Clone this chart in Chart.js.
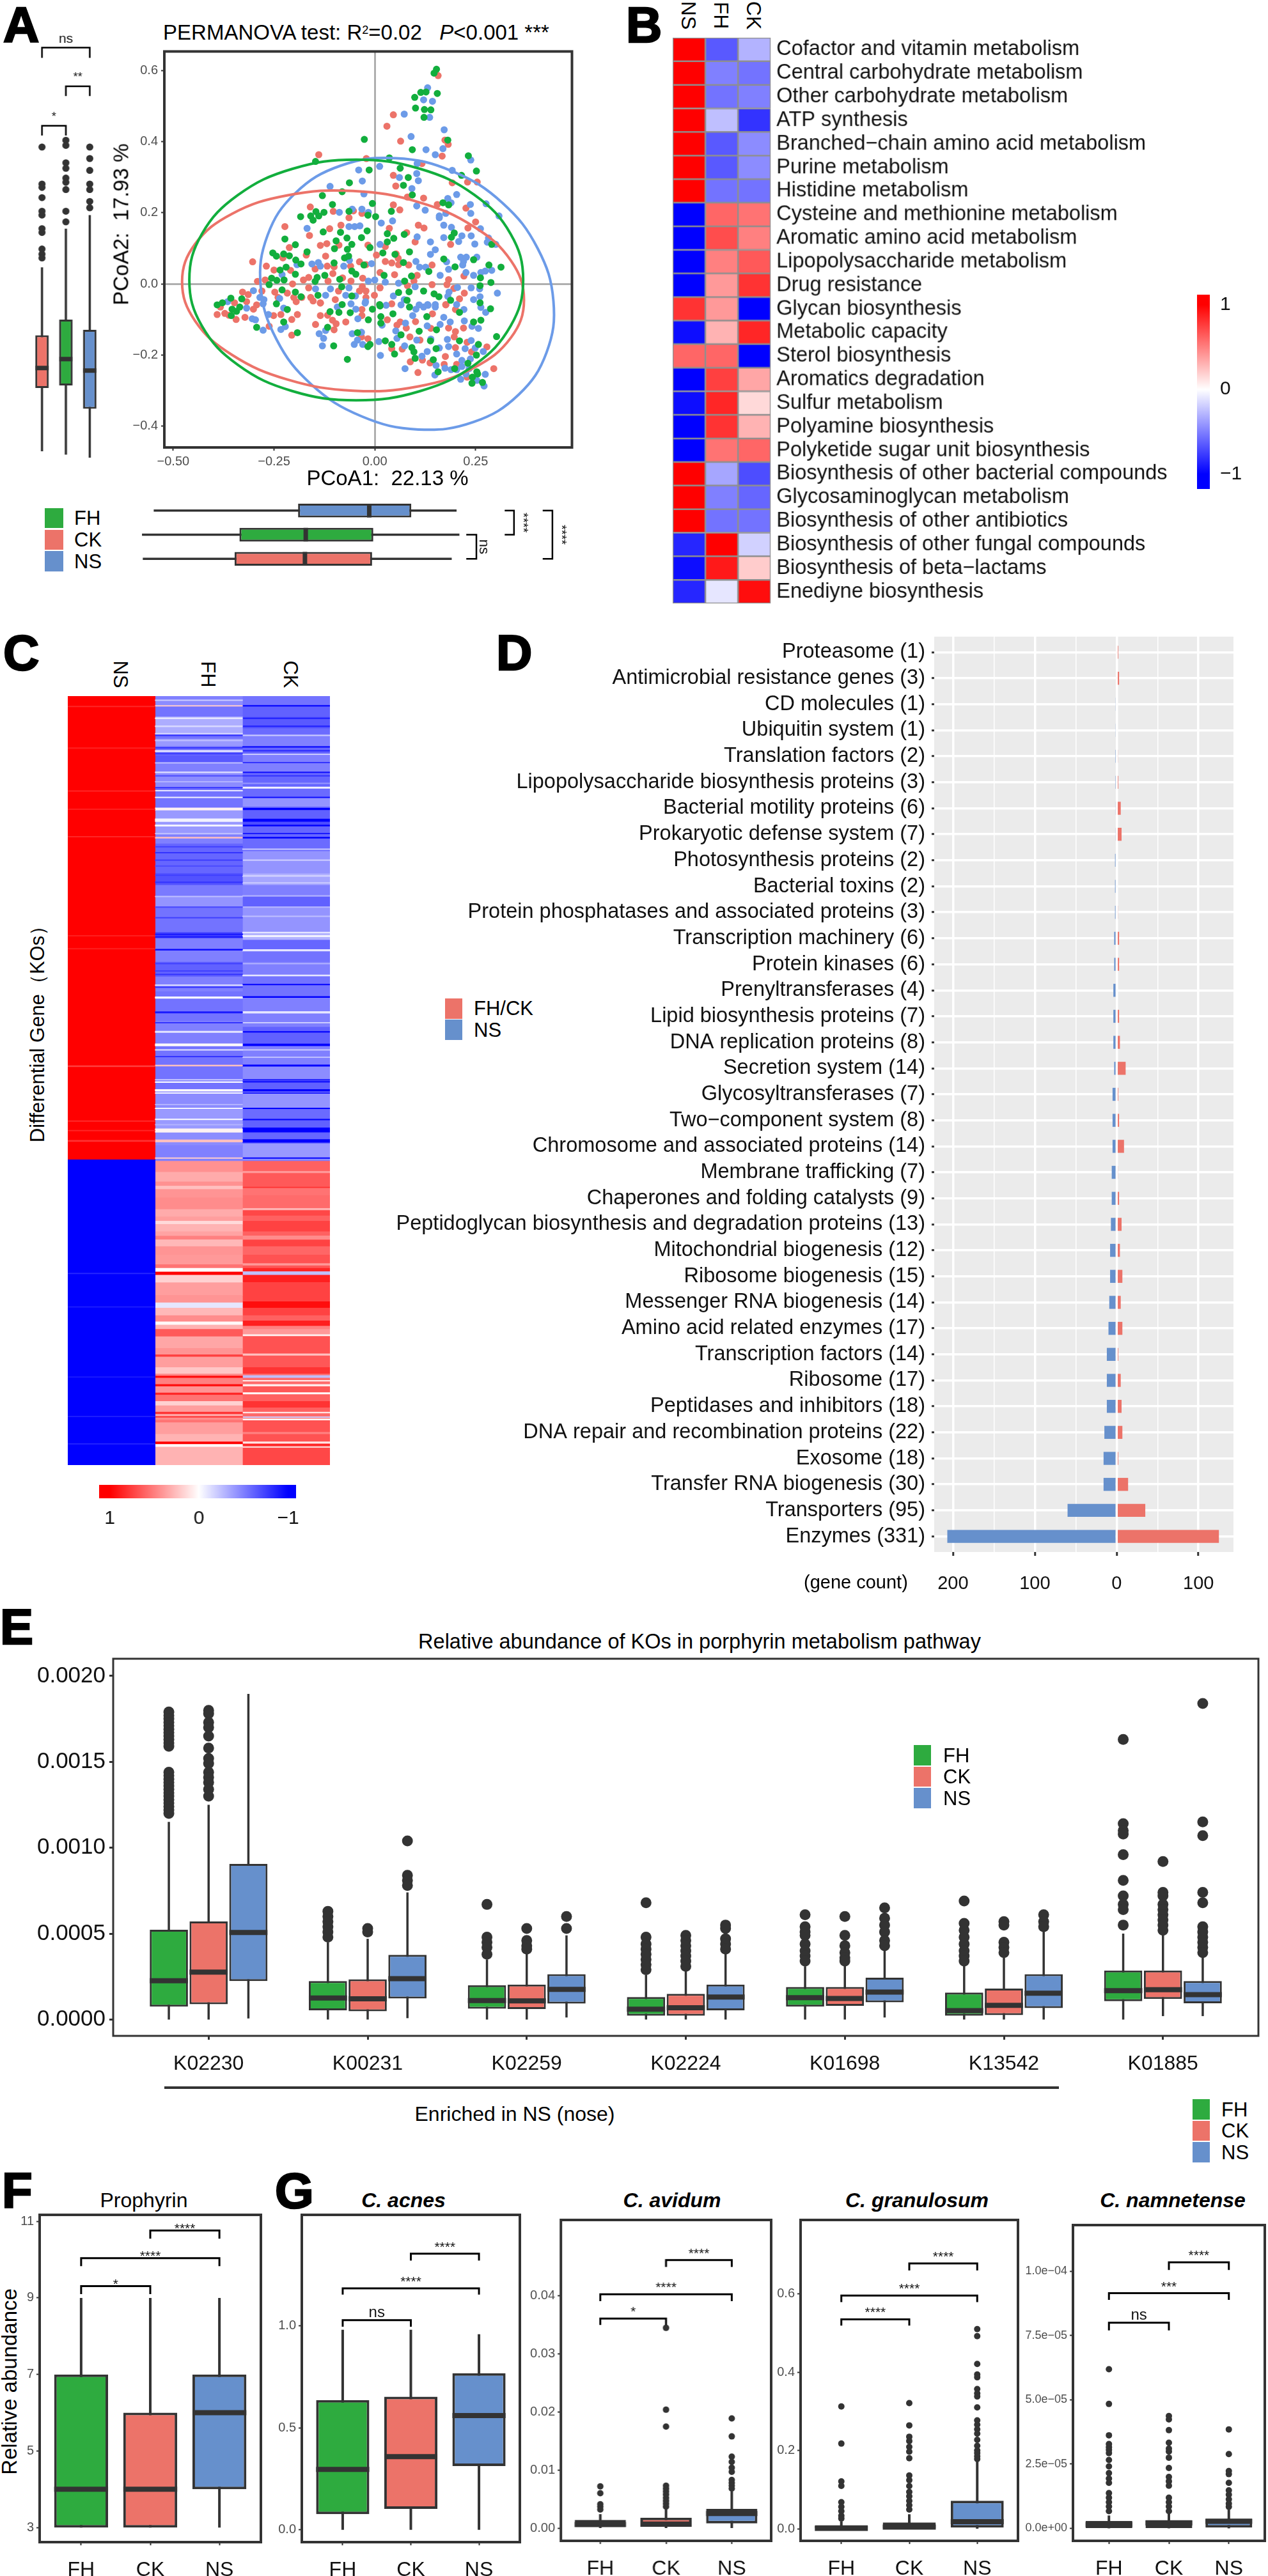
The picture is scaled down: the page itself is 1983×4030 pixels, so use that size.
<!DOCTYPE html>
<html>
<head>
<meta charset="utf-8">
<title>Figure</title>
<script src="https://cdn.jsdelivr.net/npm/chart.js@4/dist/chart.umd.min.js"></script>
<style>
  html, body { margin: 0; padding: 0; background: #fff; }
  #page { position: relative; width: 1983px; height: 4030px; overflow: hidden; font-family: "Liberation Sans", Arial, sans-serif; color: #000; }
  #page canvas { position: absolute; }
  .t { position: absolute; white-space: pre; line-height: 1; transform-origin: center; }
  .s { position: absolute; }
</style>
</head>
<body>
<div id="page"></div>
<script>
// colours
const GREEN = '#2EAB3F', RED = '#EC7369', BLUE = '#6690CC', INK = '#333333', GREY = '#4D4D4D';

// ---- panel A: PCoA points
const fhPts = [[.153,.603],[.147,.592],[.114,.538],[.127,.539],[.155,.535],[.099,.524],[.101,.494],[.123,.49],[.139,.489],[.122,.468],[-.026,.406],[.181,.404],[.093,.377],[.232,.36],[.036,.354],[-.147,.344],[-.014,.32],[.063,.325],[.252,.317],[.083,.299],[.215,.305],[-.063,.284],[.071,.277],[.093,.25],[-.13,.248],[-.081,.259],[.169,.228],[.183,.222],[-.105,.223],[-.006,.226],[.041,.204],[-.064,.204],[-.146,.203],[-.126,.201],[-.184,.189],[-.159,.191],[-.139,.191],[-.017,.193],[.002,.189],
  [-.153,.179],[-.128,.146],[-.085,.145],[-.019,.149],[-.223,.126],[-.033,.13],[-.069,.129],[.031,.141],[.047,.128],[.073,.139],[.197,.143],[.19,.131],[-.096,.121],[-.057,.111],[-.197,.11],[.031,.118],[-.1,.099],[-.012,.102],[-.068,.097],[.29,.111],[.02,.087],[-.168,.09],[-.253,.087],[-.244,.078],[-.226,.084],[-.212,.079],[.086,.09],[.05,.083],[-.075,.073],[-.065,.078],[-.196,.067],[.171,.07],[-.183,.056],[-.101,.059],[.071,.06],[-.027,.053],[.245,.068],[.199,.048],[.283,.053],[.313,.047],[-.22,.047],[-.235,.039],[-.057,.036],[.134,.035],[-.047,.027],[-.197,.027],[.023,.024],[.091,.022],[-.124,.024],[-.143,.018],[-.256,.016],[-.243,.01],[-.225,.011],[-.148,.007],[-.087,.013],[.262,.017],[.288,.004],[.074,.008],[-.262,-.002],[.261,-.005],[-.082,-.008],[-.23,-.017],[-.197,-.023],[.121,-.02],[.085,-.022],[.059,-.024],[-.357,-.04],[-.33,-.042],[-.183,-.036],[-.141,-.032],[.147,-.028],[.159,-.036],[.188,-.046],[-.057,-.034],[.08,-.046],[.261,-.053],[-.244,-.056],[.012,-.058],[-.081,-.058],[-.378,-.053],
  [-.391,-.059],[-.354,-.071],[-.343,-.077],[-.356,-.089],[-.335,-.065],[-.217,-.072],[-.111,-.078],[-.089,-.08],[-.061,-.081],[-.006,-.071],[.013,-.062],[.086,-.065],[.045,-.084],[-.016,-.101],[.015,-.092],[.015,-.11],[-.226,-.107],[-.293,-.122],[-.117,-.122],[.129,-.092],[.245,-.107],[.263,-.102],[.21,-.08],[.287,-.07],[-.192,-.137],[-.043,-.137],[.11,-.133],[.153,-.129],[.065,-.143],[.302,-.148],[.026,-.16],[.042,-.17],[-.012,-.17],[-.017,-.176],[-.102,-.174],[.138,-.16],[.21,-.16],[.257,-.17],[.092,-.179],[.097,-.191],[.049,-.197],[.152,-.182],[-.068,-.212],[.252,-.2],[.1,-.209],[.145,-.213],[.231,-.223],[.198,-.238],[.157,-.247],[.253,-.247],[.242,-.262],[.255,-.253],[.267,-.277],[.241,-.279]];
const ckPts = [[.157,.585],[.046,.475],[.03,.443],[.064,.401],[.174,.404],[.182,.392],[-.139,.363],[-.021,.352],[.167,.359],[.117,.338],[.046,.305],[.23,.286],[.192,.284],[.254,.286],[.052,.275],[.081,.244],[.121,.241],[.155,.223],[.226,.213],[-.16,.216],[.046,.222],[.062,.208],[-.103,.204],[-.053,.205],[-.032,.198],[-.064,.186],
  [-.223,.161],[-.112,.155],[-.084,.165],[.036,.156],[.108,.165],[.122,.157],[.231,.157],[.25,.174],[-.162,.136],[.1,.118],[.079,.144],[-.212,.102],[-.135,.108],[-.119,.113],[-.089,.109],[-.017,.109],[.026,.105],[.188,.111],[-.228,.073],[-.17,.081],[-.122,.078],[.004,.081],[.053,.084],[.058,.072],[-.303,.062],[-.269,.05],[-.038,.062],[-.022,.054],[.026,.063],[.042,.059],[.059,.054],[.084,.053],[.142,.053],[-.118,.05],[-.101,.048],[-.148,.042],[-.06,.05],[-.25,.039],[-.209,.038],[-.104,.029],[.013,.032],[.049,.026],[.105,.024],[-.164,.018],[-.177,.011],[-.08,.017],[-.03,.016],[-.291,.007],[-.272,.011],[-.116,.008],[-.059,.008],[.097,.008],[.183,.012],[-.204,0],[.221,.022],[.142,-.002],[.179,-.002],[.081,-.005],[-.164,-.011],[-.031,-.008],[.013,-.011],[.196,-.013],[-.328,-.023],[-.314,-.03],[-.28,-.02],[-.248,-.023],[-.217,-.026],[-.09,-.02],[-.038,-.02],[-.022,-.02],[.222,-.026],[-.001,-.032],[-.24,-.038],[-.201,-.038],[-.181,-.038],[-.159,-.038],[-.022,-.038],[.21,-.042],[-.098,-.044],[-.318,-.05],[-.348,-.053],[-.195,-.05],[-.153,-.048],[-.135,-.053],[.042,-.056],[.176,-.058],[-.385,-.06],[-.293,-.059],
  [-.391,-.086],[-.372,-.083],[-.362,-.088],[-.344,-.1],[-.383,-.065],[-.322,-.094],[-.301,-.071],[-.251,-.089],[-.233,-.086],[-.206,-.1],[-.192,-.086],[-.262,-.119],[-.135,-.054],[-.135,-.089],[-.117,-.088],[-.105,-.102],[-.096,-.112],[-.147,-.114],[-.072,-.107],[-.101,-.129],[-.206,-.144],[-.032,-.072],[-.032,-.089],[-.017,-.154],[-.033,-.149],[.031,-.101],[.063,-.107],[.055,-.116],[.078,-.124],[.101,-.106],[.087,-.149],[.042,-.182],[.068,-.183],[.112,-.158],[.176,-.059],[.2,-.072],[.143,-.084],[.139,-.125],[.183,-.124],[.22,-.124],[.2,-.134],[.197,-.149],[.229,-.164],[.2,-.179],[.24,-.191],[.278,-.177],[.175,-.204],[.137,-.222],[.172,-.226],[.088,-.219],[.107,-.249],[.203,-.226],[.295,-.238],[.229,-.262],[.118,-.214]];
const nsPts = [[.131,.551],[.121,.517],[.143,.513],[.073,.477],[.136,.468],[.172,.433],[.09,.414],[.127,.377],[.15,.363],[.169,.38],[.238,.348],[.105,.338],[.012,.33],[-.04,.32],[.192,.319],[.104,.31],[.061,.299],[.108,.29],[-.031,.289],[-.111,.274],[.092,.268],[.203,.251],[-.027,.253],[.181,.24],[.189,.228],[.276,.225],[.237,.223],[.104,.219],[.125,.207],[-.056,.21],[-.032,.21],[-.088,.201],[-.016,.201],[.238,.198],[.176,.198],[.16,.191],[.308,.191],
  [.044,.177],[-.168,.156],[-.064,.161],[-.05,.161],[-.037,.163],[.016,.171],[.16,.186],[.171,.165],[.19,.159],[.262,.155],[.105,.132],[.171,.13],[.216,.135],[.239,.135],[.208,.119],[.138,.118],[.248,.112],[.282,.129],[.279,.117],[.3,.111],[.013,.111],[.15,.096],[.138,.083],[.213,.075],[.227,.075],[.253,.075],[.22,.063],[.178,.062],[.102,.063],[-.14,.06],[-.156,.056],[-.135,.05],[-.077,.05],[.111,.047],[.126,.047],[-.008,.057],[-.063,.066],[-.193,.054],[.218,.053],[.183,.041],[.29,.038],[.274,.036],[.263,.032],[.226,.032],[.245,.024],[.162,.024],[-.23,.026],[0,.011],[-.016,.008],[.026,.005],[.059,.002],[.1,-.008],[.239,-.011],[.205,-.01],[.26,-.014],[-.301,-.019],[-.147,-.014],[-.11,-.014],[-.064,-.011],[.184,-.023],[.304,-.026],[-.072,-.032],[-.285,-.038],[-.122,-.032],[-.048,-.034],[.046,-.034],[.181,-.035],[.073,-.044],[.245,-.044],[.261,-.036],[-.023,-.05],[.131,-.058],[.15,-.058],[.11,-.059],[.203,-.058],[-.275,-.044],[-.365,-.05],[-.236,-.041],
  [-.318,-.068],[-.304,-.098],[-.296,-.101],[-.277,-.13],[-.264,-.086],[-.277,-.056],[-.226,-.068],[-.222,-.12],[-.233,-.128],[-.093,-.065],[-.059,-.056],[-.047,-.071],[-.042,-.098],[-.024,-.054],[-.138,-.14],[-.122,-.131],[-.127,-.153],[-.13,-.174],[-.056,-.14],[-.033,-.136],[-.043,-.158],[-.051,-.17],[-.03,-.17],[.01,-.162],[.014,-.201],[.018,-.116],[.028,-.06],[.065,-.059],[.102,-.071],[.094,-.089],[.121,-.065],[.132,-.06],[.15,-.065],[.171,-.094],[.187,-.107],[.162,-.114],[.13,-.118],[.221,-.072],[.263,-.066],[.275,-.08],[.222,-.104],[.241,-.119],[.257,-.125],[.052,-.132],[.055,-.153],[.076,-.11],[.104,-.158],[.139,-.155],[.18,-.156],[.239,-.159],[.249,-.18],[.269,-.19],[.224,-.182],[.16,-.18],[.13,-.19],[.117,-.203],[.074,-.174],[.183,-.176],[.203,-.197],[.216,-.215],[.237,-.211],[.152,-.229],[.174,-.237],[.189,-.241],[.216,-.232],[.234,-.238],[.149,-.256],[.075,-.238],[.274,-.254],[.213,-.268],[.253,-.271],[.271,-.287],[.226,-.253],[.203,-.241]];
const fhRing = [[.368,.011],[.337,.14],[.247,.25],[.113,.323],[-.046,.349],[-.205,.323],[-.339,.25],[-.429,.14],[-.46,.011],[-.429,-.118],[-.339,-.228],[-.205,-.301],[-.046,-.327],[.113,-.301],[.247,-.228],[.337,-.118]];
const ckRing = [[.37,-.045],[.338,.0645],[.246,.1605],[.108,.23],[-.054,.261],[-.216,.249],[-.354,.197],[-.446,.1115],[-.478,.006],[-.446,-.1035],[-.354,-.1995],[-.216,-.269],[-.054,-.3],[.108,-.288],[.246,-.2355],[.338,-.1505]];
const nsRing = [[.443,-.048],[.404,.0995],[.317,.227],[.193,.316],[.052,.353],[-.085,.332],[-.197,.255],[-.266,.1365],[-.283,-.008],[-.244,-.1555],[-.157,-.283],[-.033,-.372],[.108,-.409],[.245,-.388],[.357,-.311],[.426,-.1925]];
const pcoaXTicks = [-.5, -.25, 0, .25], pcoaXLabels = ['\u22120.50', '\u22120.25', '0.00', '0.25'];
const pcoaYTicks = [.6, .4, .2, 0, -.2, -.4], pcoaYLabels = ['0.6', '0.4', '0.2', '0.0', '\u22120.2', '\u22120.4'];

// marginal boxes, order CK, FH, NS (left one) and NS, FH, CK (bottom one)
const sideQ1 = [.173, .179, .124], sideMed = [.22, .241, .214], sideQ3 = [.297, .334, .31], sideLow = [.024, .016, .009], sideHigh = [.457, .548, .58];
const sideOut = [[.74, .653, .645, .621, .589, .58, .548, .539, .5, .488, .479], [.756, .744, .703, .69, .667, .657, .64, .589, .564], [.74, .713, .685, .653, .64, .612, .597]];
const sideBrackets = [[0, 2, .974, .95, 'ns'], [1, 2, .883, .86, '**'], [0, 1, .79, .767, '*']];
const underQ1 = [-.192, -.337, -.349], underMed = [-.016, -.173, -.175], underQ3 = [.088, -.006, -.009], underLow = [-.549, -.578, -.576], underHigh = [.2, .207, .188];
const underBrackets = [[1, 2, .249, .224, 'ns'], [0, 1, .342, .319, '****'], [0, 2, .437, .413, '****']];

// ---- panel B
const pathways = ['Cofactor and vitamin metabolism', 'Central carbohydrate metabolism', 'Other carbohydrate metabolism', 'ATP synthesis', 'Branched\u2212chain amino acid metabolism', 'Purine metabolism', 'Histidine metabolism', 'Cysteine and methionine metabolism', 'Aromatic amino acid metabolism', 'Lipopolysaccharide metabolism', 'Drug resistance', 'Glycan biosynthesis', 'Metabolic capacity', 'Sterol biosynthesis', 'Aromatics degradation', 'Sulfur metabolism', 'Polyamine biosynthesis', 'Polyketide sugar unit biosynthesis', 'Biosynthesis of other bacterial compounds', 'Glycosaminoglycan metabolism', 'Biosynthesis of other antibiotics', 'Biosynthesis of other fungal compounds', 'Biosynthesis of beta\u2212lactams', 'Enediyne biosynthesis'];
const pathNs = [1, 1, 1, 1, 1, 1, 1, -1, -1, -1, -1, .8, -.95, .6, -1, -.95, -1, -1, 1, 1, 1, -.85, -.95, -.85];
const pathFh = [-.65, -.5, -.55, -.25, -.65, -.65, -.55, .6, .7, .5, .4, .4, .3, .6, .75, .85, .8, .55, -.35, -.5, -.55, 1, .9, -.1];
const pathCk = [-.3, -.55, -.5, -.8, -.45, -.45, -.55, .55, .5, .65, .8, -1, .85, -1, .35, .15, .3, .6, -.7, -.6, -.55, -.18, .2, .95];

// ---- panel C: bands and thin stripes, positions counted along each block
const nsTopEdges = [0, 1568], nsTopVals = [1];
const nsTopAt = [35, 176, 321, 383, 476, 811, 855, 1252, 1438, 1470, 1505], nsTopVal = [.85, .88, .85, .88, .85, .88, .88, .75, .85, .85, .8], nsTopThick = [3, 3, 3, 3, 3, 3, 3, 4, 3, 3, 4];
const fhTopEdges = [0, 12, 35, 70, 130, 145, 170, 200, 225, 260, 310, 380, 400, 470, 500, 600, 640, 680, 715, 800, 820, 860, 900, 950, 1000, 1060, 1100, 1180, 1250, 1330, 1400, 1470, 1520, 1568];
const fhTopVals = [-.5, -.45, -.55, -.32, -.55, -.4, -.55, -.65, -.5, -.45, -.55, -.4, -.4, -.5, -.6, -.68, -.52, -.42, -.55, -.75, -.5, -.5, -.62, -.5, -.55, -.55, -.5, -.55, -.55, -.45, -.4, -.45, -.5];
const fhTopAt = [14, 33, 75, 102, 127, 133, 150, 175, 186, 195, 226, 258, 270, 290, 310, 320, 343, 382, 420, 438, 465, 479, 510, 530, 555, 575, 606, 630, 678, 714, 750, 806, 815, 858, 905, 930, 942, 978, 985, 1020, 1070, 1105, 1136, 1180, 1197, 1220, 1250, 1298, 1306, 1334, 1343, 1382, 1395, 1432, 1450, 1470, 1505, 1563];
const fhTopVal = [-.2, .2, -.1, -.15, -.15, -.8, -.25, -.8, -.05, -.8, -.25, -.15, -.7, -.3, -.8, -.1, -.05, .05, -.05, -.05, -.25, .25, -.75, -.8, -.75, -.7, -.75, -.8, -.25, -.7, -.75, -.9, -.9, -.95, -.75, -.75, -.8, -.1, -.8, 0, -.9, -.8, -.1, .02, -.1, -.8, .25, -.2, -.02, .02, -.05, -.3, -.05, -.05, -.3, .05, .25, .2];
const fhTopThick = [3, 3, 4, 4, 3, 3, 3, 3, 4, 3, 3, 4, 3, 3, 3, 3, 3, 8, 10, 5, 3, 4, 3, 3, 3, 3, 3, 3, 3, 3, 3, 3, 3, 4, 3, 3, 3, 3, 3, 6, 5, 3, 5, 8, 3, 3, 4, 3, 3, 6, 3, 3, 3, 3, 3, 12, 8, 3];
const ckTopEdges = [0, 30, 70, 110, 130, 170, 200, 260, 310, 345, 375, 415, 440, 475, 525, 600, 640, 680, 715, 800, 825, 860, 900, 950, 1020, 1060, 1120, 1180, 1250, 1300, 1340, 1395, 1430, 1480, 1515, 1568];
const ckTopVals = [-.55, -.62, -.65, -.58, -.5, -.6, -.5, -.6, -.58, -.42, -.62, -.7, -.6, -.58, -.42, -.35, -.5, -.62, -.42, -.3, -.6, -.55, -.5, -.55, -.5, -.5, -.62, -.5, -.45, -.62, -.42, -.58, -.62, -.6, -.4];
const ckTopAt = [33, 75, 102, 133, 172, 185, 197, 225, 258, 270, 295, 310, 343, 382, 420, 438, 465, 479, 518, 555, 608, 632, 676, 714, 745, 800, 812, 860, 905, 945, 976, 1018, 1070, 1105, 1136, 1180, 1197, 1222, 1250, 1298, 1305, 1334, 1343, 1395, 1433, 1468, 1505, 1563];
const ckTopVal = [-1, -.85, -.85, -.2, -1, -.85, -.2, -.8, -.95, -.8, -.4, -.05, -.95, -1, -1, -1, -.9, -1, -.2, -.2, -.2, -.2, -.3, -.3, -.25, -.1, -.05, -.1, -.3, -.1, -1, -1, -.1, -.2, -.95, -1, -.2, -.25, -1, -.9, -.95, -1, -.9, -1, -1, -1, -1, -1];
const ckTopThick = [3, 4, 4, 3, 3, 3, 3, 3, 3, 3, 3, 5, 3, 6, 8, 4, 3, 4, 3, 3, 6, 3, 3, 3, 3, 3, 5, 6, 3, 4, 3, 4, 6, 3, 4, 7, 3, 3, 5, 3, 3, 6, 3, 3, 3, 15, 10, 3];
const nsBotEdges = [0, 1440], nsBotVals = [-1];
const nsBotAt = [537, 695, 1025, 1211, 1340], nsBotVal = [-.85, -.88, -.88, -.85, -.85], nsBotThick = [4, 3, 3, 3, 3];
const fhBotEdges = [0, 8, 60, 105, 125, 140, 180, 235, 270, 290, 305, 340, 360, 378, 410, 450, 495, 512, 530, 545, 580, 640, 675, 700, 735, 765, 780, 800, 835, 890, 920, 930, 980, 1010, 1020, 1030, 1060, 1070, 1100, 1110, 1140, 1160, 1190, 1200, 1212, 1216, 1228, 1240, 1295, 1330, 1342, 1355, 1440];
const fhBotVals = [-.5, .43, .33, .43, .25, .42, .45, .33, .38, .15, .3, .36, .5, .28, .42, .4, .55, 0, 1, .18, .38, .42, -.1, .28, .45, .02, .3, .65, .35, .42, .75, .38, .22, .45, .95, .5, .95, .42, .85, .55, .18, .38, .8, .38, 1, .45, .55, .38, .3, 1, .02, .3];
const ckBotEdges = [0, 8, 55, 65, 130, 135, 170, 230, 240, 265, 290, 340, 360, 378, 410, 450, 490, 500, 512, 528, 545, 580, 640, 670, 700, 735, 760, 785, 800, 825, 833, 915, 925, 980, 1010, 1018, 1030, 1040, 1047, 1060, 1070, 1098, 1107, 1140, 1170, 1190, 1197, 1212, 1218, 1222, 1230, 1285, 1295, 1330, 1340, 1352, 1360, 1440];
const ckBotVals = [-.5, .62, .4, .65, .8, .55, .58, .3, .72, .62, .74, .62, .45, .74, .6, .68, .4, .66, .85, -.25, .88, .74, .74, .95, .74, .62, .88, .5, .4, .05, .68, .25, .66, .8, .58, -.25, .58, .1, .58, .05, .66, .02, .62, .8, .62, .1, .58, -.2, .58, .02, .68, .5, .68, .1, .85, .2, .72];

// ---- panel D
const koClasses = ['Proteasome (1)', 'Antimicrobial resistance genes (3)', 'CD molecules (1)', 'Ubiquitin system (1)', 'Translation factors (2)', 'Lipopolysaccharide biosynthesis proteins (3)', 'Bacterial motility proteins (6)', 'Prokaryotic defense system (7)', 'Photosynthesis proteins (2)', 'Bacterial toxins (2)', 'Protein phosphatases and associated proteins (3)', 'Transcription machinery (6)', 'Protein kinases (6)', 'Prenyltransferases (4)', 'Lipid biosynthesis proteins (7)', 'DNA replication proteins (8)', 'Secretion system (14)', 'Glycosyltransferases (7)', 'Two\u2212component system (8)', 'Chromosome and associated proteins (14)', 'Membrane trafficking (7)', 'Chaperones and folding catalysts (9)', 'Peptidoglycan biosynthesis and degradation proteins (13)', 'Mitochondrial biogenesis (12)', 'Ribosome biogenesis (15)', 'Messenger RNA biogenesis (14)', 'Amino acid related enzymes (17)', 'Transcription factors (14)', 'Ribosome (17)', 'Peptidases and inhibitors (18)', 'DNA repair and recombination proteins (22)', 'Exosome (18)', 'Transfer RNA biogenesis (30)', 'Transporters (95)', 'Enzymes (331)'];
const koNs = [0, 0, -1.5, -1.5, -1, -1, -1.5, -1.5, -2, -2, -2, -3, -3, -4, -4, -4, -3, -5, -5, -5, -6, -6, -7, -8, -8, -9, -10, -12, -12, -12, -15, -16, -16, -60, -207];
const koFh = [2, 3, 0, 0, 1.5, 2, 5, 6, 0, 0, 1.5, 3, 3, 0, 3, 4, 11, 2, 3, 9, 1.5, 3, 6, 4, 7, 5, 7, 2, 5, 6, 7, 2, 14, 35, 125];
const countTicks = [-200, -150, -100, -50, 0, 50, 100], countLabels = ['200', '', '100', '', '0', '', '100'];

// ---- panel E, seven KOs per group
const koNames = ['K02230', 'K00231', 'K02259', 'K02224', 'K01698', 'K13542', 'K01885'];
const abundTicks = [0, .0005, .001, .0015, .002], abundLabels = ['0.0000', '0.0005', '0.0010', '0.0015', '0.0020'];
const fhQ1 = [.000075, .000054, .000063, .000022, .000075, .000022, .000107];
const fhMed = [.000226, .000125, .000111, .00006, .000127, .000052, .000168];
const fhQ3 = [.000523, .000224, .0002, .000131, .00019, .000157, .000285];
const fhLow = [0, 0, 0, 0, 0, 0, 0];
const fhHigh = [.00115, .00045, .00035, .00026, .00031, .000325, .0005];
const fhOut = [[.00179, .00177, .00175, .00173, .00171, .00169, .00167, .00165, .00163, .00161, .00159, .00144, .00142, .0014, .00138, .00136, .00134, .00132, .0013, .00128, .00126, .00124, .00122, .0012],
  [.00063, .0006, .00057, .00054, .00051, .00048], [.00067, .00048, .00045, .00042, .00038], [.00068, .00048, .00044, .00041, .00038, .00035, .00032, .00029], [.00061, .00054, .00051, .00049, .00044, .0004, .00037, .00034], [.00069, .00056, .00052, .00048, .00044, .0004, .00037, .00034], [.00163, .00114, .0011, .00108, .00096, .00081, .00072, .00067, .00064, .00055]];
const ckQ1 = [.000089, .000048, .000061, .000022, .00008, .000026, .00012];
const ckMed = [.000276, .000121, .000109, .000069, .000123, .000083, .000174];
const ckQ3 = [.000571, .000234, .000204, .00015, .00019, .00018, .000285];
const ckLow = [0, 0, 0, 0, 0, 0, .00002];
const ckHigh = [.00125, .00047, .00039, .00029, .00032, .00036, .0005];
const ckOut = [[.0018, .00178, .00173, .0017, .00165, .00158, .00152, .00149, .00144, .00141, .00138, .00134, .0013],
  [.00053, .00051], [.00053, .00046, .00043, .00041], [.00049, .00046, .00043, .0004, .00037, .00034, .00031], [.0006, .00049, .00043, .00039, .00036, .00034], [.00057, .00055, .00045, .00042, .00039], [.00092, .00074, .00072, .00067, .00064, .00061, .00058, .00055, .00052]];
const nsQ1 = [.000224, .000123, .000093, .000054, .0001, .000067, .000095];
const nsMed = [.000507, .000238, .000176, .000131, .00016, .000153, .000145];
const nsQ3 = [.000906, .000377, .000264, .000204, .000244, .000264, .000224];
const nsLow = [.000006, .000008, .000012, 0, .000012, 0, .00002];
const nsHigh = [.001895, .00074, .00049, .00039, .00041, .00052, .00037];
const nsOut = [[], [.00104, .00084, .00081, .00078], [.0006, .00053], [.00055, .00053, .00047, .00044, .00041], [.00065, .00059, .00055, .00051, .00046, .00043], [.00061, .00057, .00054], [.00184, .00115, .00107, .00074, .00068, .00054, .00051, .00048, .00045, .00042, .00039]];

// ---- panels F, G, groups FH, CK, NS
const groupNames = ['FH', 'CK', 'NS'];
const porQ1 = [3, 3, 4], porMed = [4, 4, 6], porQ3 = [7, 6, 7], porLow = [3, 3, 3], porHigh = [9, 9, 9], porOut = [[], [], []];
const porBrackets = [[0, 1, 9.31, 9.1, '*'], [0, 2, 10.04, 9.83, '****'], [1, 2, 10.76, 10.55, '****']];
const acnesQ1 = [.077, .103, .313], acnesMed = [.296, .359, .56], acnesQ3 = [.636, .653, .768], acnesLow = [0, 0, 0], acnesHigh = [.981, .981, .959], acnesOut = [[], [], []];
const acnesBrackets = [[0, 1, 1.028, .996, 'ns'], [0, 2, 1.184, 1.153, '****'], [1, 2, 1.354, 1.32, '****']];
const avidumQ1 = [.0002, .0002, .0008], avidumMed = [.0006, .0007, .0025], avidumQ3 = [.0014, .0018, .0033], avidumLow = [0, 0, 0], avidumHigh = [.0024, .0032, .0063];
const avidumOut = [[.0072, .006, .0041, .0037, .0032], [.0345, .0204, .0175, .0073, .0068, .0063, .0058, .0052, .0047, .0042, .0037], [.0189, .0158, .0123, .0114, .0104, .0097, .0083, .0078, .0073, .0068]];
const avidumBrackets = [[0, 1, .0361, .035, '*'], [0, 2, .0403, .0391, '****'], [1, 2, .0462, .045, '****']];
const granQ1 = [0, 0, .003], granMed = [.001, .004, .018], granQ3 = [.009, .016, .0715], granLow = [0, 0, 0], granHigh = [.018, .037, .174];
const granOut = [[.3125, .2175, .121, .1095, .0677, .056, .045, .033, .026], [.321, .264, .235, .224, .209, .197, .18, .136, .124, .109, .094, .083, .071, .06, .049], [.51, .492, .421, .394, .387, .357, .346, .338, .31, .277, .266, .254, .243, .227, .212, .2, .193, .185, .178]];
const granBrackets = [[0, 1, .535, .519, '****'], [0, 2, .596, .579, '****'], [1, 2, .678, .66, '****']];
const namQ1 = [0, 0, .03e-5], namMed = [.15e-5, .21e-5, .27e-5], namQ3 = [.29e-5, .32e-5, .38e-5], namLow = [0, 0, 0], namHigh = [.5e-5, .61e-5, .73e-5];
const namOut = [[6.19e-5, 4.84e-5, 3.62e-5, 3.28e-5, 3.16e-5, 3.05e-5, 2.93e-5, 2.66e-5, 2.41e-5, 2.15e-5, 1.94e-5, 1.77e-5, 1.37e-5, 1.19e-5, 1.02e-5, .85e-5, .67e-5],
  [4.37e-5, 4.24e-5, 3.82e-5, 3.33e-5, 3.1e-5, 2.99e-5, 2.75e-5, 2.35e-5, 2e-5, 1.83e-5, 1.66e-5, 1.19e-5, 1.02e-5, .85e-5, .67e-5], [3.85e-5, 2.89e-5, 2.23e-5, 2.11e-5, 1.77e-5, 1.48e-5, 1.31e-5, 1.13e-5, .96e-5, .84e-5]];
const namBrackets = [[0, 1, 8e-5, 7.7e-5, 'ns'], [0, 2, 9.15e-5, 8.89e-5, '***'], [1, 2, 10.35e-5, 10.05e-5, '****']];

// ---- helpers
const page = document.getElementById('page');
const SANS = '"Liberation Sans", Arial, sans-serif';

function txt(x, y, str, o = {}) {
  const el = document.createElement('div');
  el.className = 't';
  el.innerHTML = str;
  el.style.left = x + 'px';
  el.style.top = y + 'px';
  el.style.fontSize = (o.size || 30) + 'px';
  el.style.fontWeight = o.weight || 'normal';
  el.style.fontStyle = o.italic ? 'italic' : 'normal';
  if (o.stroke) el.style.webkitTextStroke = o.stroke + 'px #000';
  el.style.transform = `translate(${o.left ? '0' : '-50%'},-50%) rotate(${o.rot || 0}deg)`;
  page.appendChild(el);
}
function box(x, y, w, h, color) {
  const el = document.createElement('div');
  el.className = 's';
  el.style.cssText = `left:${x}px;top:${y}px;width:${w}px;height:${h}px;background:${color}`;
  page.appendChild(el);
}
function letter(x, y, ch) { txt(x, y, ch, { size: 78, weight: 'bold', stroke: 2.5, left: true }); }

function heatColor(v) {
  const c = Math.round(255 * (1 - Math.min(1, Math.abs(v))));
  return v > 0 ? `rgb(255,${c},${c})` : `rgb(${c},${c},255)`;
}
function rampFill(ctx) {
  const ch = ctx.chart, horiz = ch.options.indexAxis === 'y', s = horiz ? ch.scales.x : ch.scales.y;
  if (!s) return '#fff';
  const a = s.getPixelForValue(1), b = s.getPixelForValue(-1);
  if (!isFinite(a) || !isFinite(b)) return '#fff'; // first pass, before layout
  const g = horiz ? ch.ctx.createLinearGradient(a, 0, b, 0) : ch.ctx.createLinearGradient(0, a, 0, b);
  g.addColorStop(0, '#ff0000'); g.addColorStop(.5, '#ffffff'); g.addColorStop(1, '#0000ff');
  return g;
}
// closed ellipse: one extra point at each end only to get the tangents right, those two pieces stay invisible
function ringSet(ring, color) {
  const pts = [ring[ring.length - 1], ...ring, ring[0], ring[1]].map(([x, y]) => ({ x, y }));
  return {
    data: pts, showLine: true, tension: .4, borderColor: color, borderWidth: 4, pointRadius: 0, order: 1,
    segment: { borderColor: c => (c.p0DataIndex === 0 || c.p1DataIndex === pts.length - 1) ? 'transparent' : undefined }
  };
}

// linear axis with fixed ticks, so every plot can use ggplot style expansion
function axis(min, max, at, labels, extra = {}) {
  const { font, color, padding, grid, ...rest } = extra;
  return {
    type: 'linear', min, max, offset: false, border: { display: false },
    grid: { offset: false, drawOnChartArea: false, tickColor: INK, tickLength: 5, tickWidth: 2, ...grid },
    ticks: { autoSkip: false, maxRotation: 0, minRotation: 0, padding: padding ?? 5, color: color || GREY,
      font: { family: SANS, size: font || 20 }, callback: (v, i) => labels[i] },
    afterBuildTicks: s => { s.ticks = at.map(value => ({ value })); },
    ...rest
  };
}

// puts a chart so that its plot area lands exactly on plot {l,t,r,b}
function draw(plot, m, config) {
  const c = document.createElement('canvas');
  const w = plot.r - plot.l + m.l + m.r, h = plot.b - plot.t + m.t + m.b;
  c.width = w; c.height = h;
  c.style.cssText = `left:${plot.l - m.l}px;top:${plot.t - m.t}px;width:${w}px;height:${h}px`;
  page.appendChild(c);
  const pad = { left: m.l, right: m.r, top: m.t, bottom: m.b };
  const sideKey = { left: 'l', right: 'r', top: 't', bottom: 'b' };
  Object.entries(config.options.scales).forEach(([k, s]) => {
    if (s.display === false) return;
    const pos = s.position || (k === 'x' ? 'bottom' : 'left');
    pad[pos] = 0;
    s.afterFit = sc => {
      if (k === 'x') sc.height = m[sideKey[pos]]; else sc.width = m[sideKey[pos]];
      sc.paddingLeft = sc.paddingRight = sc.paddingTop = sc.paddingBottom = 0;
    };
  });
  config.options.responsive = false;
  config.options.animation = false;
  config.options.devicePixelRatio = 1;
  config.options.layout = { padding: pad };
  config.options.plugins = { legend: { display: false }, tooltip: { enabled: false } };
  return new Chart(c, config);
}

// ---- small inline plugins
function frame(w, color = INK, fill = null) {
  return {
    id: 'frame',
    beforeDraw(ch) {
      if (!fill) return;
      const a = ch.chartArea;
      ch.ctx.fillStyle = fill;
      ch.ctx.fillRect(a.left, a.top, a.width, a.height);
    },
    afterDraw(ch) {
      if (!w) return;
      const a = ch.chartArea, g = ch.ctx;
      g.strokeStyle = color; g.lineWidth = w;
      g.strokeRect(a.left, a.top, a.width, a.height);
    }
  };
}
function boxMarks(dotR, whiskerW, medianW) {
  const each = (ch, fn) => ch.data.datasets.forEach((ds, i) => {
    if (ds.stats) ch.getDatasetMeta(i).data.forEach((bar, k) => fn(ds.stats, bar, k));
  });
  const pick = ch => {
    const horiz = ch.options.indexAxis === 'y', v = horiz ? ch.scales.x : ch.scales.y;
    return { horiz, pos: (c, val) => horiz ? [v.getPixelForValue(val), c] : [c, v.getPixelForValue(val)] };
  };
  return {
    id: 'boxMarks',
    beforeDatasetsDraw(ch) {
      const { horiz, pos } = pick(ch), g = ch.ctx;
      g.strokeStyle = INK; g.lineWidth = whiskerW;
      each(ch, (st, bar, k) => {
        const c = horiz ? bar.y : bar.x;
        g.beginPath(); g.moveTo(...pos(c, st.low[k])); g.lineTo(...pos(c, st.high[k])); g.stroke();
      });
    },
    afterDatasetsDraw(ch) {
      const { horiz, pos } = pick(ch), g = ch.ctx;
      each(ch, (st, bar, k) => {
        const c = horiz ? bar.y : bar.x, half = (horiz ? bar.height : bar.width) / 2;
        g.strokeStyle = INK; g.lineWidth = medianW;
        g.beginPath(); g.moveTo(...pos(c - half, st.med[k])); g.lineTo(...pos(c + half, st.med[k])); g.stroke();
        g.fillStyle = INK;
        st.out[k].forEach(val => {
          const [x, y] = pos(c, val);
          g.beginPath(); g.arc(x, y, dotR, 0, Math.PI * 2); g.fill();
        });
      });
    }
  };
}
function brackets(list, o) {
  return {
    id: 'brackets',
    afterDatasetsDraw(ch) {
      const horiz = ch.options.indexAxis === 'y', g = ch.ctx;
      const iS = horiz ? ch.scales.y : ch.scales.x, vS = horiz ? ch.scales.x : ch.scales.y;
      const P = (i, v) => horiz ? [vS.getPixelForValue(v), iS.getPixelForValue(i)] : [iS.getPixelForValue(i), vS.getPixelForValue(v)];
      g.strokeStyle = '#000'; g.lineWidth = o.lw; g.fillStyle = '#111';
      list.forEach(([a, b, at, tip, label]) => {
        g.beginPath(); g.moveTo(...P(a, tip)); g.lineTo(...P(a, at)); g.lineTo(...P(b, at)); g.lineTo(...P(b, tip)); g.stroke();
        const star = label[0] === '*';
        g.font = `${star ? o.starSize : o.nsSize}px ${SANS}`;
        g.textAlign = 'center'; g.textBaseline = 'alphabetic';
        const [x, y] = P((a + b) / 2, at), dy = star ? o.starDy : o.nsDy;
        g.save();
        if (horiz) { g.translate(x - dy, y); g.rotate(Math.PI / 2); } else { g.translate(x, y + dy); }
        g.fillText(label, 0, 0);
        g.restore();
      });
    }
  };
}

// bars for the heat maps; lower order is painted on top, so stripes sit over their bands
const bandBars = (col, edges, vals) => vals.map((v, i) => ({ x: col, y: [edges[i], edges[i + 1]], v }));
const stripeBars = (col, at, vals, thick) => at.map((a, i) => ({ x: col, y: [a - thick[i] / 2, a + thick[i] / 2], v: vals[i] }));
const heatSet = (points, extra = {}) => ({ data: points, backgroundColor: points.map(p => heatColor(p.v)), borderWidth: 0, grouped: false, barPercentage: 1, categoryPercentage: 1, borderSkipped: false, order: 2, ...extra });
const stripeSet = points => heatSet(points, { order: 1 });

// ---- A, scatter
draw({ l: 257, t: 79, r: 896, b: 700 }, { l: 60, r: 4, t: 4, b: 38 }, {
  type: 'scatter',
  data: { datasets: [
    ringSet(fhRing, '#12AE3D'),
    ringSet(ckRing, RED),
    ringSet(nsRing, '#6C9BE8'),
    { data: nsPts.map(([x, y]) => ({ x, y })), backgroundColor: '#6C9BE8', pointRadius: 5.5, borderWidth: 0, order: 3 },
    { data: ckPts.map(([x, y]) => ({ x, y })), backgroundColor: RED, pointRadius: 5.5, borderWidth: 0, order: 4 },
    { data: fhPts.map(([x, y]) => ({ x, y })), backgroundColor: '#12AE3D', pointRadius: 5.5, borderWidth: 0, order: 2 }
  ] },
  options: { scales: {
    x: axis(-.522, .489, pcoaXTicks, pcoaXLabels, { grid: { drawOnChartArea: true, lineWidth: 3, color: c => c.tick && c.tick.value === 0 ? '#AFAFAF' : 'transparent', tickColor: INK } }),
    y: axis(-.4595, .653, pcoaYTicks, pcoaYLabels, { grid: { drawOnChartArea: true, lineWidth: 3, color: c => c.tick && c.tick.value === 0 ? '#AFAFAF' : 'transparent', tickColor: INK } })
  } },
  plugins: [frame(4)]
});
txt(557, 50, 'PERMANOVA test: R<span style="font-size:.55em;position:relative;top:-.5em">2</span>=0.02   <i>P</i>&lt;0.001 ***', { size: 33 });
txt(606, 747, 'PCoA1:  22.13 %', { size: 33 });
txt(189, 351, 'PCoA2:  17.93 %', { size: 33, rot: -90 });
letter(5, 39, 'A');

const hide = (min, max, at) => ({ ...axis(min, max, at, at.map(() => '')), display: false });

// left marginal boxes
draw({ l: 47, t: 4, r: 158.5, b: 722 }, { l: 0, r: 0, t: 0, b: 0 }, {
  type: 'bar',
  data: { datasets: [{
    data: sideQ1.map((q, i) => ({ x: i, y: [q, sideQ3[i]] })),
    backgroundColor: [RED, GREEN, BLUE], borderColor: INK, borderWidth: 3, borderSkipped: false, barPercentage: .56, categoryPercentage: 1,
    stats: { low: sideLow, high: sideHigh, med: sideMed, out: sideOut }
  }] },
  options: { scales: { x: hide(-.5, 2.5, [0, 1, 2]), y: hide(0, 1.08, [0, 1]) } },
  plugins: [boxMarks(5.5, 3.5, 7), brackets(sideBrackets, { lw: 2.5, starSize: 18, nsSize: 21, starDy: -9, nsDy: -7 })]
});

// bottom marginal boxes
draw({ l: 217, t: 780, r: 893, b: 893 }, { l: 0, r: 16, t: 0, b: 0 }, {
  type: 'bar',
  data: { datasets: [{
    data: underQ1.map((q, i) => ({ y: i, x: [q, underQ3[i]] })),
    backgroundColor: [BLUE, GREEN, RED], borderColor: INK, borderWidth: 3, borderSkipped: false, barPercentage: .57, categoryPercentage: 1,
    stats: { low: underLow, high: underHigh, med: underMed, out: [[], [], []] }
  }] },
  options: { indexAxis: 'y', scales: { x: hide(-.586, .483, [0]), y: { ...hide(-.5, 2.5, [0, 1, 2]), reverse: true } } },
  plugins: [boxMarks(5, 3.5, 7), brackets(underBrackets, { lw: 2.5, starSize: 20, nsSize: 22, starDy: -8, nsDy: -5 })]
});
box(70, 795, 29, 31, GREEN); box(70, 829, 29, 31, RED); box(70, 862, 29, 32, BLUE);
txt(116, 810, 'FH', { size: 31, left: true });
txt(116, 844, 'CK', { size: 31, left: true });
txt(116, 878, 'NS', { size: 31, left: true });

// ---- B
letter(979, 39, 'B');
draw({ l: 1052, t: 59.4, r: 1205.6, b: 944 }, { l: 0, r: 640, t: 0, b: 0 }, {
  type: 'bar',
  data: { datasets: [pathNs, pathFh, pathCk].map((vals, col) => heatSet(vals.map((v, i) => ({ x: col, y: [i, i + 1], v })), { borderColor: '#8F8F8F', borderWidth: 1.6 })) },
  options: { scales: {
    x: hide(-.5, 2.5, [0, 1, 2]),
    y: axis(0, 24, pathways.map((p, i) => i + .5), pathways, { position: 'right', reverse: true, font: 32.5, color: '#111', padding: 9, grid: { drawTicks: false } })
  } }
});
txt(1077, 24, 'NS', { size: 32, rot: 90 });
txt(1128, 24, 'FH', { size: 32, rot: 90 });
txt(1179, 24, 'CK', { size: 32, rot: 90 });
draw({ l: 1871.5, t: 460.6, r: 1892, b: 765 }, { l: 0, r: 60, t: 0, b: 0 }, {
  type: 'bar',
  data: { datasets: [{ data: [{ x: 0, y: [-1.177, 1.12] }], backgroundColor: rampFill, barPercentage: 1, categoryPercentage: 1, borderWidth: 0 }] },
  options: { scales: {
    x: hide(-.5, .5, [0]),
    y: axis(-1.177, 1.12, [1, 0, -1], ['1', '0', '\u22121'], { position: 'right', font: 30, color: '#111', padding: 16, grid: { drawTicks: false } })
  } }
});

// ---- C
letter(5, 1021, 'C');
txt(188, 1055, 'NS', { size: 31, rot: 90 });
txt(325, 1055, 'FH', { size: 31, rot: 90 });
txt(454, 1055, 'CK', { size: 31, rot: 90 });
txt(58, 1610, 'Differential Gene（KOs）', { size: 31, rot: -90 });
draw({ l: 106, t: 1089, r: 516, b: 1814 }, { l: 0, r: 0, t: 0, b: 0 }, {
  type: 'bar',
  data: { datasets: [
    heatSet(bandBars(0, nsTopEdges, nsTopVals)), stripeSet(stripeBars(0, nsTopAt, nsTopVal, nsTopThick)),
    heatSet(bandBars(1, fhTopEdges, fhTopVals)), stripeSet(stripeBars(1, fhTopAt, fhTopVal, fhTopThick)),
    heatSet(bandBars(2, ckTopEdges, ckTopVals)), stripeSet(stripeBars(2, ckTopAt, ckTopVal, ckTopThick))
  ] },
  options: { scales: { x: hide(-.5, 2.5, [0, 1, 2]), y: { ...hide(0, 1568, [0]), reverse: true } } }
});
draw({ l: 106, t: 1814, r: 516, b: 2292 }, { l: 0, r: 0, t: 0, b: 0 }, {
  type: 'bar',
  data: { datasets: [
    heatSet(bandBars(0, nsBotEdges, nsBotVals)), stripeSet(stripeBars(0, nsBotAt, nsBotVal, nsBotThick)),
    heatSet(bandBars(1, fhBotEdges, fhBotVals)),
    heatSet(bandBars(2, ckBotEdges, ckBotVals))
  ] },
  options: { scales: { x: hide(-.5, 2.5, [0, 1, 2]), y: { ...hide(0, 1440, [0]), reverse: true } } }
});
draw({ l: 155, t: 2323, r: 462.5, b: 2344 }, { l: 0, r: 4, t: 0, b: 46 }, {
  type: 'bar',
  data: { datasets: [{ data: [{ y: 0, x: [-1.09, 1.12] }], backgroundColor: rampFill, barPercentage: 1, categoryPercentage: 1, borderWidth: 0 }] },
  options: { indexAxis: 'y', scales: {
    x: axis(-1.09, 1.12, [1, 0, -1], ['1', '0', '\u22121'], { reverse: true, font: 30, color: '#111', padding: 14, grid: { drawTicks: false } }),
    y: hide(-.5, .5, [0])
  } }
});

// ---- D
letter(776, 1021, 'D');
box(696, 1562, 27, 32, RED); box(696, 1595, 27, 32, BLUE);
txt(741, 1577, 'FH/CK', { size: 31, left: true });
txt(741, 1611, 'NS', { size: 31, left: true });
draw({ l: 1461, t: 996, r: 1929, b: 2428 }, { l: 861, r: 4, t: 0, b: 64 }, {
  type: 'bar',
  data: { datasets: [
    { data: koNs.map((v, i) => ({ y: i, x: v })), backgroundColor: BLUE, barPercentage: .5, categoryPercentage: 1 },
    { data: koFh.map((v, i) => ({ y: i, x: v })), backgroundColor: RED, barPercentage: .5, categoryPercentage: 1 }
  ] },
  options: { indexAxis: 'y', scales: {
    x: axis(-223, 142.8, countTicks, countLabels, { stacked: true, font: 29, color: '#111', padding: 27, grid: { drawOnChartArea: true, color: '#fff', lineWidth: c => c.tick && c.tick.value % 100 === 0 ? 3.5 : 1.5, tickColor: c => c.tick && c.tick.value % 100 === 0 ? INK : 'transparent', tickWidth: 3, tickLength: 6 } }),
    y: axis(-.6, 34.6, koClasses.map((k, i) => i), koClasses, { stacked: true, reverse: true, font: 32.5, color: '#111', padding: 10, grid: { drawOnChartArea: true, color: '#fff', lineWidth: 3.5, tickColor: INK, tickWidth: 3, tickLength: 4 } })
  } },
  plugins: [frame(0, INK, '#EBEBEB')]
});
txt(1257, 2475, '(gene count)', { size: 29, left: true });

// ---- E
letter(0, 2545, 'E');
txt(1094, 2568, 'Relative abundance of KOs in porphyrin metabolism pathway', { size: 32.5 });
const koPoints = (q1, q3) => q1.map((q, i) => ({ x: i, y: [q, q3[i]] }));
const koSet = (color, q1, med, q3, low, high, out) => ({ data: koPoints(q1, q3), backgroundColor: color, borderColor: INK, borderWidth: 3, borderSkipped: false, barPercentage: .96, categoryPercentage: .75, stats: { low, high, med, out } });
draw({ l: 177, t: 2595, r: 1968, b: 3185 }, { l: 177, r: 4, t: 2, b: 60 }, {
  type: 'bar',
  data: { datasets: [
    koSet(GREEN, fhQ1, fhMed, fhQ3, fhLow, fhHigh, fhOut),
    koSet(RED, ckQ1, ckMed, ckQ3, ckLow, ckHigh, ckOut),
    koSet(BLUE, nsQ1, nsMed, nsQ3, nsLow, nsHigh, nsOut)
  ] },
  options: { scales: {
    x: axis(-.6, 6.6, [0, 1, 2, 3, 4, 5, 6], koNames, { font: 32, color: '#111', padding: 19, grid: { tickLength: 6, tickWidth: 3 } }),
    y: axis(-.000095, .0021, abundTicks, abundLabels, { font: 35, color: '#111', padding: 6, grid: { tickLength: 6, tickWidth: 3 } })
  } },
  plugins: [boxMarks(8.5, 3.5, 8), frame(3)]
});
box(1429, 2730, 27, 32, GREEN); box(1429, 2764, 27, 31, RED); box(1429, 2797, 27, 32, BLUE);
txt(1475, 2746, 'FH', { size: 31, left: true });
txt(1475, 2779, 'CK', { size: 31, left: true });
txt(1475, 2813, 'NS', { size: 31, left: true });
box(257, 3264, 1399, 4, INK);
txt(805, 3307, 'Enriched in NS (nose)', { size: 32 });
box(1865, 3284, 27, 32, GREEN); box(1865, 3318, 27, 31, RED); box(1865, 3351, 27, 32, BLUE);
txt(1910, 3300, 'FH', { size: 31, left: true });
txt(1910, 3333, 'CK', { size: 31, left: true });
txt(1910, 3367, 'NS', { size: 31, left: true });

// ---- F, G
function groupBoxes(plot, leftGap, yMin, yMax, yTicks, yLabels, q1, med, q3, low, high, out, pairs, tickFont, style) {
  draw(plot, { l: leftGap, r: 3, t: 3, b: 53 }, {
    type: 'bar',
    data: { datasets: [{
      data: q1.map((q, i) => ({ x: i, y: [q, q3[i]] })),
      backgroundColor: [GREEN, RED, BLUE], borderColor: INK, borderWidth: 4, borderSkipped: false, barPercentage: .78, categoryPercentage: 1,
      stats: { low, high, med, out }
    }] },
    options: { scales: {
      x: axis(-.6, 2.6, [0, 1, 2], groupNames, { font: 32, color: '#111', padding: 20 }),
      y: axis(yMin, yMax, yTicks, yLabels, { font: tickFont, padding: 4 })
    } },
    plugins: [boxMarks(5, 4, 8), frame(4), brackets(pairs, style)]
  });
}
const porStyle = { lw: 3, starSize: 21, nsSize: 24, starDy: 3.5, nsDy: -6 };
const speciesStyle = { lw: 3, starSize: 21, nsSize: 24, starDy: -4, nsDy: -5 };
letter(3, 3427, 'F');
letter(430, 3427, 'G');
txt(225, 3442, 'Prophyrin', { size: 32 });
txt(14, 3726, 'Relative abundance', { size: 33, rot: -90 });
groupBoxes({ l: 62, t: 3465, r: 408, b: 3977 }, 60, 2.62, 11.17, [3, 5, 7, 9, 11], ['3', '5', '7', '9', '11'], porQ1, porMed, porQ3, porLow, porHigh, porOut, porBrackets, 20, porStyle);
txt(631, 3442, 'C. acnes', { size: 32, weight: 'bold', italic: true });
groupBoxes({ l: 472, t: 3465, r: 813, b: 3977 }, 44, -.06, 1.544, [0, .5, 1], ['0.0', '0.5', '1.0'], acnesQ1, acnesMed, acnesQ3, acnesLow, acnesHigh, acnesOut, acnesBrackets, 20, speciesStyle);
txt(1051, 3442, 'C. avidum', { size: 32, weight: 'bold', italic: true });
groupBoxes({ l: 877, t: 3473, r: 1205.6, b: 3975 }, 50, -.0022, .0531, [0, .01, .02, .03, .04], ['0.00', '0.01', '0.02', '0.03', '0.04'], avidumQ1, avidumMed, avidumQ3, avidumLow, avidumHigh, avidumOut, avidumBrackets, 20, speciesStyle);
txt(1434, 3442, 'C. granulosum', { size: 32, weight: 'bold', italic: true });
groupBoxes({ l: 1252, t: 3473, r: 1592, b: 3975 }, 38, -.031, .789, [0, .2, .4, .6], ['0.0', '0.2', '0.4', '0.6'], granQ1, granMed, granQ3, granLow, granHigh, granOut, granBrackets, 20, speciesStyle);
txt(1834, 3442, 'C. namnetense', { size: 32, weight: 'bold', italic: true });
groupBoxes({ l: 1678, t: 3481, r: 1978, b: 3975 }, 78, -.486e-5, 11.8e-5, [0, 2.5e-5, 5e-5, 7.5e-5, 1e-4], ['0.0e+00', '2.5e\u221205', '5.0e\u221205', '7.5e\u221205', '1.0e\u221204'], namQ1, namMed, namQ3, namLow, namHigh, namOut, namBrackets, 18, speciesStyle);
</script>
</body>
</html>
